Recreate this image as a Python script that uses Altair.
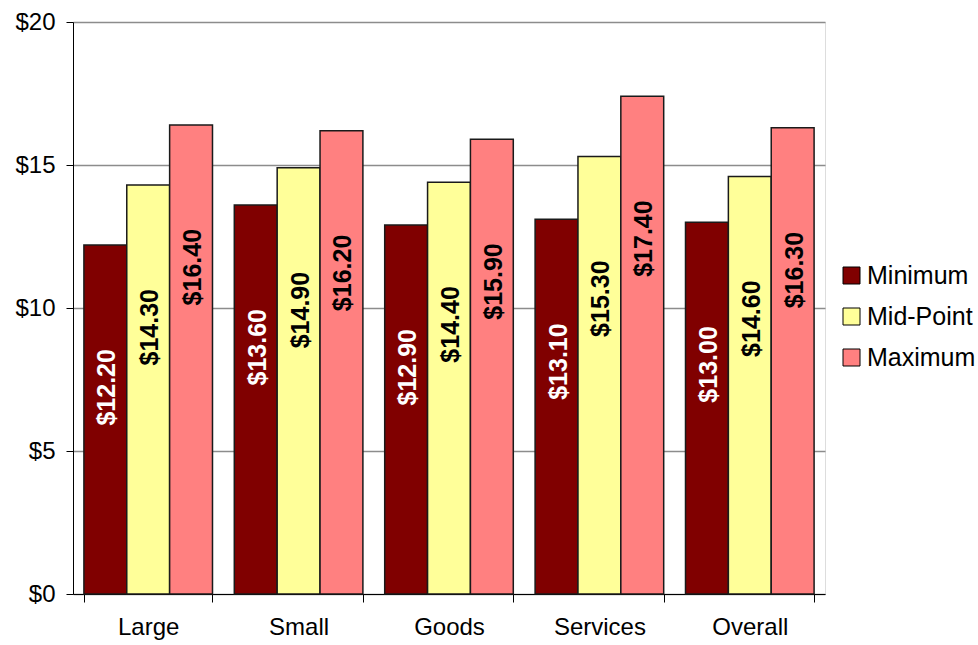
import altair as alt
import pandas as pd

categories = ["Large", "Small", "Goods", "Services", "Overall"]
series = ["Minimum", "Mid-Point", "Maximum"]
minimum = [12.2, 13.6, 12.9, 13.1, 13.0]
midpoint = [14.3, 14.9, 14.4, 15.3, 14.6]
maximum = [16.4, 16.2, 15.9, 17.4, 16.3]
colors = ["#800000", "#FFFF99", "#FF8080"]
label_colors = ["#FFFFFF", "#000000", "#000000"]

rows = []
for vals, s, lc in zip([minimum, midpoint, maximum], series, label_colors):
    for c, v in zip(categories, vals):
        rows.append({"cat": c, "series": s, "value": v,
                     "label": "${:.2f}".format(v), "lc": lc})
df = pd.DataFrame(rows)

FONT = "Liberation Sans"

x = alt.X("cat:N", sort=categories, title=None,
          scale=alt.Scale(paddingInner=0.145, paddingOuter=0.0725),
          axis=alt.Axis(labelAngle=0, tickBand="extent", labelFontSize=24,
                        labelFont=FONT, labelColor="black", domainColor="black",
                        tickColor="black", tickSize=8, labelPadding=13,
                        grid=False))
xo = alt.XOffset("series:N", sort=series, scale=alt.Scale(paddingInner=0, paddingOuter=0))
y = alt.Y("value:Q", title=None,
          scale=alt.Scale(domain=[0, 20]),
          axis=alt.Axis(values=[0, 5, 10, 15, 20], labelExpr="'$' + datum.value",
                        labelFontSize=24, labelFont=FONT, labelColor="black",
                        domainColor="black", tickColor="black", tickSize=7,
                        labelPadding=11, grid=True, gridColor="#8c8c8c",
                        gridWidth=1.5))

bars = alt.Chart(df).mark_bar(stroke="#1a1a1a", strokeWidth=1.5).encode(
    x=x, xOffset=xo, y=y,
    color=alt.Color("series:N", sort=series,
                    scale=alt.Scale(domain=series, range=colors),
                    legend=alt.Legend(title=None, orient="none", legendX=766, legendY=241,
                                      symbolType="square", symbolSize=289,
                                      symbolStrokeColor="black", symbolStrokeWidth=1,
                                      symbolOpacity=1, labelFontSize=25, labelFont=FONT,
                                      labelColor="black", labelOffset=3,
                                      rowPadding=15)),
)

labels = alt.Chart(df).mark_text(angle=270, align="right", baseline="middle",
                                 dx=-104, dy=2, fontSize=25, fontWeight="bold",
                                 font=FONT).encode(
    x=x, xOffset=xo, y=y,
    text="label:N",
    color=alt.Color("lc:N", scale=None),
)

chart = alt.layer(bars, labels).properties(
    width=752, height=572,
    autosize=alt.AutoSizeParams(type="none"),
    padding={"left": 73, "top": 22, "right": 153, "bottom": 51},
).configure_view(stroke=None).configure(background="white")

chart.save("out.html", embed_options={"renderer": "svg", "actions": False})
